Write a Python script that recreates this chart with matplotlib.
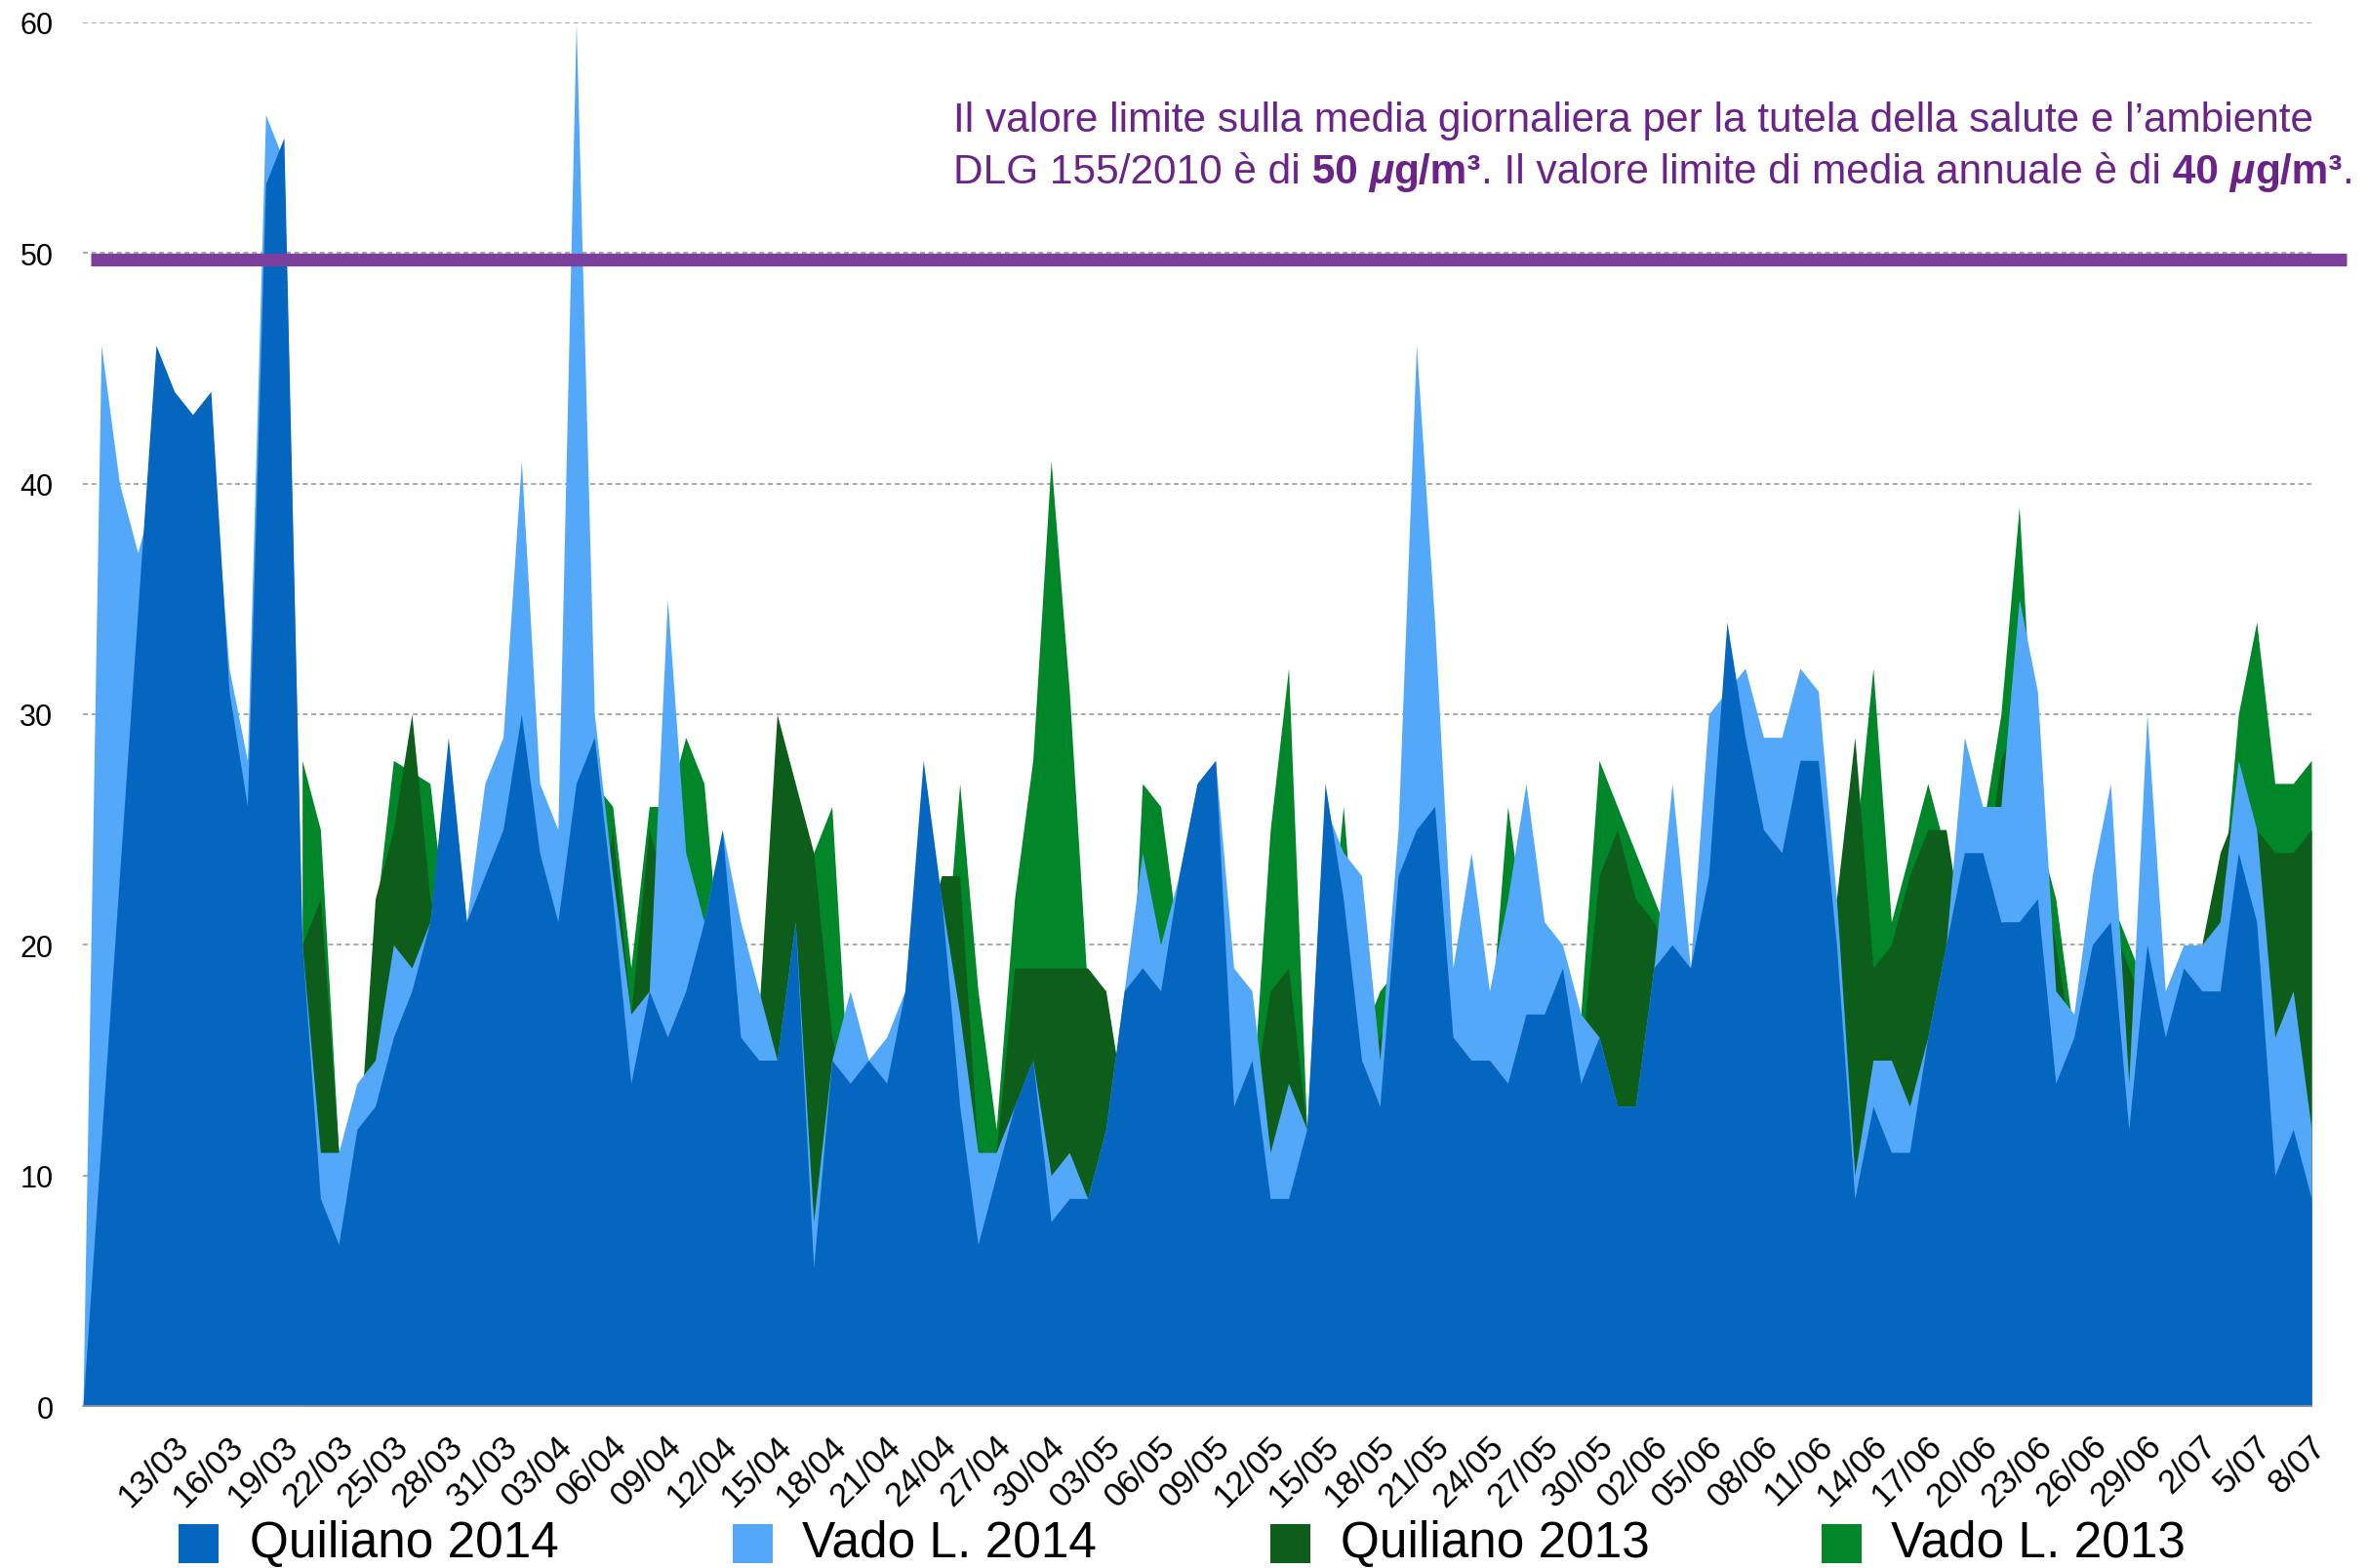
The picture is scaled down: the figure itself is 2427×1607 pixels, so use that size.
import numpy as np
import matplotlib.pyplot as plt
from matplotlib.patches import Rectangle
import matplotlib.transforms as mtransforms

plt.rcParams['font.family'] = ['Liberation Sans', 'DejaVu Sans']

nan = np.nan

# daily PM10 (ug/m3), 08/03 .. 08/07
quiliano_2014 = [0, 11.5, 23, 34.5, 46, 44, 43, 44, 31, 26,
                 53, 55, 20, 9, 7, 12, 13, 16, 18, 21,
                 29, 21, 23, 25, 30, 24, 21, 27, 29, 22,
                 14, 18, 16, 18, 21, 25, 16, 15, 15, 21,
                 6, 15, 14, 15, 14, 18, 28, 22, 13, 7,
                 10, 13, 15, 8, 9, 9, 12, 18, 19, 18,
                 23, 27, 28, 13, 15, 9, 9, 12, 27, 22,
                 15, 13, 23, 25, 26, 16, 15, 15, 14, 17,
                 17, 19, 14, 16, 13, 13, 19, 20, 19, 23,
                 34, 29, 25, 24, 28, 28, 20, 9, 13, 11,
                 11, 16, 20, 24, 24, 21, 21, 22, 14, 16,
                 20, 21, 12, 20, 16, 19, 18, 18, 24, 21,
                 10, 12, 9]
vado_2014 = [0, 46, 40, 37, 40, 42, 41, 42, 32, 28,
             56, 54, 20, 11, 11, 14, 15, 20, 19, 21,
             28, 21, 27, 29, 41, 27, 25, 60, 30, 23,
             17, 18, 35, 24, 21, 25, 21, 18, 15, 21,
             8, 15, 18, 15, 16, 18, 27, 22, 17, 11,
             11, 13, 15, 10, 11, 9, 12, 18, 24, 20,
             23, 27, 28, 19, 18, 11, 14, 12, 26, 24,
             23, 15, 25, 46, 34, 19, 24, 18, 22, 27,
             21, 20, 17, 16, 13, 13, 19, 27, 19, 30,
             31, 32, 29, 29, 32, 31, 22, 10, 15, 15,
             13, 16, 20, 29, 26, 26, 35, 31, 18, 17,
             23, 27, 14, 30, 18, 20, 20, 21, 28, 25,
             16, 18, 12]
quiliano_2013 = [nan, nan, nan, nan, nan, nan, nan, nan, nan, nan,
                 nan, nan, 20, 22, 11, 10, 22, 25, 30, 22,
                 19, 17, 19, 21, 24, 20, 20, 23, 20, 25,
                 17, 25, 22, 22, 20, 17, 16, 17, 30, 27,
                 24, 16, 13, 13, 13, 15, 20, 23, 23, 11,
                 11, 19, 19, 19, 19, 19, 18, 13, 24, 20,
                 19, 20, 18, 14, 13, 18, 19, 12, 17, 20,
                 15, 16, 18, 19, 20, 16, 17, 15, 22, 19,
                 16, 15, 15, 23, 25, 22, 21, 19, 17, 21,
                 24, 23, 22, 21, 23, 22, 22, 29, 19, 20,
                 23, 25, 25, 20, 22, 28, 30, 24, 20, 15,
                 19, 21, 19, 17, 16, 18, 20, 24, 26, 25,
                 24, 24, 25]
vado_2013 = [nan, nan, nan, nan, nan, nan, nan, nan, nan, nan,
             nan, nan, 28, 25, 11, 10, 21, 28, 27.5, 27,
             20, 18, 20, 22, 25, 22, 21, 24, 27, 26,
             19, 26, 26, 29, 27, 18, 17, 15, 22, 22,
             24, 26, 12.5, 14, 14, 15, 16, 17, 27, 18,
             12, 22, 28, 41, 31, 18, 16, 11, 27, 26,
             20, 22, 20, 15, 13, 25, 32, 12, 18, 26,
             16, 18, 19, 20, 22, 17, 18, 16, 26, 20,
             17, 16, 17, 28, 26, 24, 22, 20, 18, 22,
             25, 24, 23, 22, 24, 23, 20, 24, 32, 21,
             24, 27, 24, 20, 25, 30, 39, 25, 22, 16,
             20, 22, 20, 18, 16, 18, 19, 21, 30, 34,
             27, 27, 28]

tick_pos = list(range(5, 123, 3))
tick_labels = ["13/03", "16/03", "19/03", "22/03", "25/03", "28/03", "31/03",
               "03/04", "06/04", "09/04", "12/04", "15/04", "18/04", "21/04",
               "24/04", "27/04", "30/04", "03/05", "06/05", "09/05", "12/05",
               "15/05", "18/05", "21/05", "24/05", "27/05", "30/05", "02/06",
               "05/06", "08/06", "11/06", "14/06", "17/06", "20/06", "23/06",
               "26/06", "29/06", "2/07", "5/07", "8/07"]

series_names = ["Quiliano 2014", "Vado L. 2014", "Quiliano 2013", "Vado L. 2013"]
series_colors = ["#0566c0", "#53a8f9", "#0d5e1a", "#018729"]
limite = 50

W, H = 2427, 1608
fig = plt.figure(figsize=(W / 100, H / 100), dpi=100)
ax = fig.add_axes([85 / W, 1 - 1442 / H, (2369 - 85) / W, (1442 - 24) / H])

x = np.arange(len(quiliano_2014))
# back to front: Vado 2013, Quiliano 2013, Vado 2014, Quiliano 2014
data = [quiliano_2014, vado_2014, quiliano_2013, vado_2013]
for k in [3, 2, 1, 0]:
    y = np.array(data[k], dtype=float)
    ax.fill_between(x, 0, y, color=series_colors[k], lw=0, zorder=2 + (3 - k))

# limit line sits just under the 50 grid line
down = mtransforms.ScaledTranslation(0, -6.5 / 100, fig.dpi_scale_trans)
ax.plot([0.45, 123.9], [limite, limite], color="#7b3f9e", lw=9.5,
        solid_capstyle="butt", clip_on=False, zorder=10,
        transform=ax.transData + down)

ax.set_xlim(0, 122)
ax.set_ylim(0, 60)
ax.set_yticks(range(0, 61, 10))
ax.yaxis.grid(True, linestyle=(0, (3, 2.2)), color="#9a9a9a", lw=1.2)
ax.set_axisbelow(True)
for s in ["top", "right", "left"]:
    ax.spines[s].set_visible(False)
ax.spines["bottom"].set_color("#9a9a9a")
ax.spines["bottom"].set_linewidth(1.2)
ax.spines["bottom"].set_zorder(11)

ax.tick_params(axis="y", length=0, pad=22, labelsize=22)
ax.set_xticks(tick_pos)
ax.set_xticklabels(tick_labels, rotation=45, ha="right", va="top",
                   rotation_mode="anchor", fontsize=25)
ax.tick_params(axis="x", length=0, pad=17)
shift = mtransforms.ScaledTranslation(-2 / 100, 0, fig.dpi_scale_trans)
for lab in ax.get_xticklabels():
    lab.set_transform(lab.get_transform() + shift)

# annotation
purple = "#6b2389"
fs = 30.5
fig.text(977 / W, 1 - 135 / H,
         "Il valore limite sulla media giornaliera per la tutela della salute e l\u2019ambiente",
         color=purple, fontsize=fs, va="baseline", ha="left")
pieces = [("DLG 155/2010 \u00e8 di", "normal", "normal"),
          (" 50", "bold", "normal"),
          (" \u03bc", "bold", "italic"),
          ("g/m\u00b3", "bold", "normal"),
          (". Il valore limite di media annuale \u00e8 di", "normal", "normal"),
          (" 40", "bold", "normal"),
          (" \u03bc", "bold", "italic"),
          ("g/m\u00b3", "bold", "normal"),
          (".", "normal", "normal")]
prev = fig.text(977 / W, 1 - 188 / H, pieces[0][0], color=purple, fontsize=fs,
                va="baseline", ha="left")
for txt, wt, st in pieces[1:]:
    prev = ax.annotate(txt, xy=(1, 0), xycoords=prev, va="bottom", ha="left",
                       color=purple, fontsize=fs, fontweight=wt, fontstyle=st,
                       annotation_clip=False)

# legend
sq_x = [183, 751, 1302, 1867]
tx_x = [256, 822, 1374, 1938]
for k in range(4):
    fig.add_artist(Rectangle((sq_x[k] / W, 1 - 1603 / H), 41 / W, 40 / H,
                             transform=fig.transFigure, color=series_colors[k], lw=0))
    fig.text(tx_x[k] / W, 1 - 1596 / H, series_names[k], fontsize=37,
             va="baseline", ha="left", color="black")

fig.savefig("out.png", dpi=100)
